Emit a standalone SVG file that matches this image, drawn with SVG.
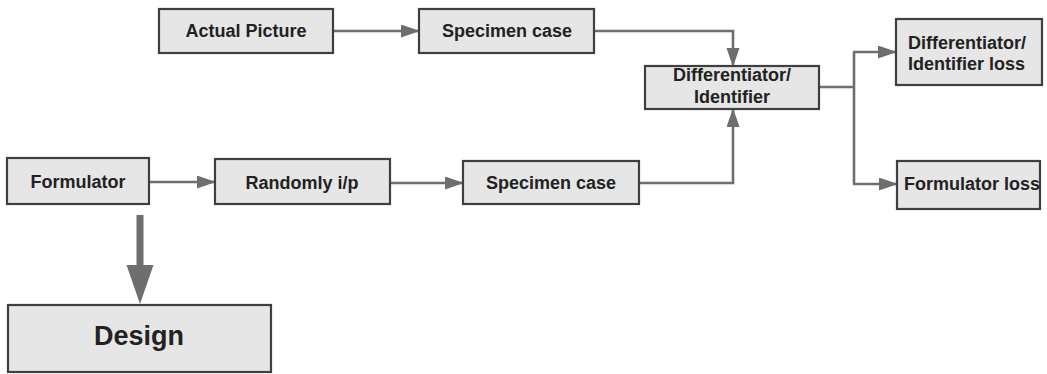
<svg xmlns="http://www.w3.org/2000/svg" width="1047" height="374" viewBox="0 0 1047 374">
  <style>
    .box { fill: #e6e6e6; stroke: #3f3f3f; stroke-width: 2.2; }
    .lbl { font-family: "Liberation Sans", Arial, sans-serif; font-weight: bold; font-size: 18px; fill: #222; }
    .mid { text-anchor: middle; }
    .big { font-size: 27px; }
    .wire { fill: none; stroke: #6e6e6e; stroke-width: 2.6; }
    .thick { fill: none; stroke: #6e6e6e; stroke-width: 7; }
  </style>
  <defs>
    <marker id="head" markerUnits="userSpaceOnUse" markerWidth="20" markerHeight="14" refX="17" refY="6.5" orient="auto">
      <path d="M0,0 L19,6.5 L0,13 z" fill="#6e6e6e"/>
    </marker>
    <!-- wide head whose base sits on the end of the shaft -->
    <marker id="bighead" markerUnits="userSpaceOnUse" markerWidth="40" markerHeight="28" refX="1" refY="13.5" orient="auto">
      <path d="M0,0 L39,13.5 L0,27 z" fill="#6e6e6e"/>
    </marker>
  </defs>
  <rect width="1047" height="374" fill="#ffffff"/>

  <g id="connectors">
    <path class="wire" d="M333,31 H418" marker-end="url(#head)"/>
    <path class="wire" d="M594,31 H733 V65" marker-end="url(#head)"/>
    <path class="wire" d="M149,182 H214" marker-end="url(#head)"/>
    <path class="wire" d="M390,183 H462" marker-end="url(#head)"/>
    <path class="wire" d="M639,183 H733 V110" marker-end="url(#head)"/>
    <path class="wire" d="M819,87 H854"/>
    <path class="wire" d="M854,52 V184"/>
    <path class="wire" d="M853,52 H895" marker-end="url(#head)"/>
    <path class="wire" d="M853,184 H896" marker-end="url(#head)"/>
    <path class="thick" d="M140,215 V266" marker-end="url(#bighead)"/>
  </g>

  <g id="actual-picture">
    <rect class="box" x="159" y="9" width="174" height="44"/>
    <text class="lbl mid" x="246" y="37">Actual Picture</text>
  </g>
  <g id="specimen-case-top">
    <rect class="box" x="419" y="9" width="175" height="44"/>
    <text class="lbl mid" x="507" y="37">Specimen case</text>
  </g>
  <g id="differentiator">
    <rect class="box" x="645" y="66" width="174" height="43"/>
    <text class="lbl mid" x="732" y="81">Differentiator/</text>
    <text class="lbl mid" x="732" y="103">Identifier</text>
  </g>
  <g id="differentiator-loss">
    <rect class="box" x="896" y="19" width="146" height="66"/>
    <text class="lbl" x="908" y="49">Differentiator/</text>
    <text class="lbl" x="908" y="70">Identifier loss</text>
  </g>
  <g id="formulator-loss">
    <rect class="box" x="897" y="161" width="143" height="48"/>
    <text class="lbl" x="904" y="190">Formulator loss</text>
  </g>
  <g id="formulator">
    <rect class="box" x="7" y="158" width="142" height="46"/>
    <text class="lbl mid" x="78" y="188">Formulator</text>
  </g>
  <g id="randomly-ip">
    <rect class="box" x="215" y="159" width="175" height="45"/>
    <text class="lbl mid" x="302" y="189">Randomly i/p</text>
  </g>
  <g id="specimen-case-bottom">
    <rect class="box" x="463" y="161" width="176" height="43"/>
    <text class="lbl mid" x="551" y="189">Specimen case</text>
  </g>
  <g id="design">
    <rect class="box" x="8" y="305" width="263" height="67"/>
    <text class="lbl mid big" x="139" y="345">Design</text>
  </g>
</svg>
